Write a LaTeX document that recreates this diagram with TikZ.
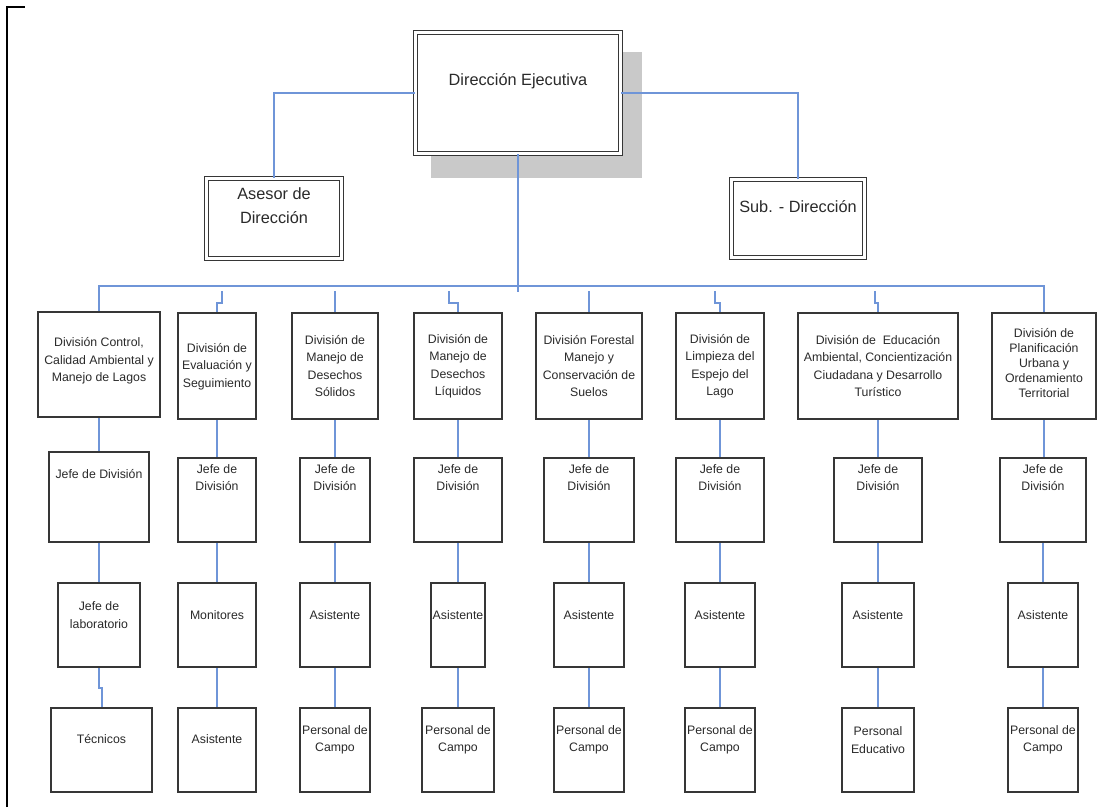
\documentclass[tikz,border=0pt]{standalone}
\usepackage{fontspec}
\setmainfont{Liberation Sans}
\definecolor{connblue}{HTML}{6F95D8}
\definecolor{boxline}{HTML}{363636}
\definecolor{txtgray}{HTML}{2A2A2A}
\definecolor{shadowgray}{HTML}{C9C9C9}
\tikzset{
  obx/.style={draw=boxline, line width=2pt, fill=white, rectangle, inner sep=0pt},
  dbx/.style={draw=boxline, line width=1.3pt, double=white, double distance=2.6pt, fill=white, rectangle, inner sep=0pt},
  txt/.style={align=center, font=\fontsize{12.3}{17.5}\selectfont, text=txtgray, inner sep=0pt},
  tight/.style={font=\fontsize{12.3}{15}\selectfont},
  bigtxt/.style={align=center, font=\fontsize{16.3}{24}\selectfont, text=txtgray, inner sep=0pt},
  conn/.style={draw=connblue, line width=2pt},
}
% #1 extra text style, #2 name, #3 x1, #4 y1, #5 x2, #6 y2, #7 text y, #8 text
\newcommand\obox[8]{%
  \node[obx, minimum width={(#5-#3)*1pt}, minimum height={(#6-#4)*1pt}] (#2) at ({(#3+#5)/2},{(#4+#6)/2}) {};
  \node[txt,#1] (#2-t) at ({(#3+#5)/2},#7) {#8};}
\newcommand\dbox[7]{%
  \node[dbx, minimum width={(#4-#2-5.2)*1pt}, minimum height={(#5-#3-5.2)*1pt}] (#1) at ({(#2+#4)/2},{(#3+#5)/2}) {};
  \node[bigtxt] (#1-t) at ({(#2+#4)/2},#6) {#7};}
\begin{document}
\begin{tikzpicture}[x=1pt,y=-1pt]
\useasboundingbox (0,0) rectangle (1110,807);
% frame corner
\draw[black, line width=2pt] (7,807) -- (7,7) -- (25,7);

% top level
\fill[shadowgray] (431,52) rectangle (642,178);
\dbox{dir}{413}{30}{623}{156}{81}{Dirección Ejecutiva}
\dbox{ase}{204}{176}{344}{261}{206}{Asesor de\\Dirección}
\dbox{sub}{729}{177}{867}{260}{207}{Sub. - Dirección}

\draw[conn] (ase.north) |- (dir.west);
\draw[conn] (dir.east) -| (sub.north);

% divisions
\obox{}{d1}{38}{312}{160}{417}{361}{División Control,\\Calidad Ambiental y\\Manejo de Lagos}
\obox{}{d2}{178}{313}{256}{419}{366.5}{División de\\Evaluación y\\Seguimiento}
\obox{}{d3}{292}{313}{378}{419}{366}{División de\\Manejo de\\Desechos\\Sólidos}
\obox{}{d4}{414}{313}{502}{419}{366}{División de\\Manejo de\\Desechos\\Líquidos}
\obox{}{d5}{536}{313}{642}{419}{366}{División Forestal\\Manejo y\\Conservación de\\Suelos}
\obox{}{d6}{676}{313}{764}{419}{366}{División de\\Limpieza del\\Espejo del\\Lago}
\obox{}{d7}{798}{313}{958}{419}{366}{División de\ \ Educación\\Ambiental, Concientización\\Ciudadana y Desarrollo\\Turístico}
\obox{tight}{d8}{992}{313}{1096}{419}{363}{División de\\Planificación\\Urbana y\\Ordenamiento\\Territorial}

% bus
\coordinate (busmid) at (518,292);
\coordinate (bus1) at (99,286);
\coordinate (bus8) at (1044,286);
\draw[conn] (dir.south) -- (busmid);
\draw[conn] (d1.north) -- (bus1) -- (bus8) -- (d8.north);
\coordinate (s2) at (222,291);
\coordinate (s3) at (335,291);
\coordinate (s4) at (449,291);
\coordinate (s5) at (589,291);
\coordinate (s6) at (715,291);
\coordinate (s7) at (875,291);
\draw[conn] (s2) -- ++(0,12) -| (d2.north);
\draw[conn] (s3) -- (d3.north);
\draw[conn] (s4) -- ++(0,12) -| (d4.north);
\draw[conn] (s5) -- (d5.north);
\draw[conn] (s6) -- ++(0,12) -| (d6.north);
\draw[conn] (s7) -- ++(0,12) -| (d7.north);

% row 2: Jefe de División
\obox{}{j1}{49}{452}{149}{542}{474}{Jefe de División}
\obox{}{j2}{178}{458}{256}{542}{477.5}{Jefe de\\División}
\obox{}{j3}{300}{458}{370}{542}{477.5}{Jefe de\\División}
\obox{}{j4}{414}{458}{502}{542}{477.5}{Jefe de\\División}
\obox{}{j5}{544}{458}{634}{542}{477.5}{Jefe de\\División}
\obox{}{j6}{676}{458}{764}{542}{477.5}{Jefe de\\División}
\obox{}{j7}{834}{458}{922}{542}{477.5}{Jefe de\\División}
\obox{}{j8}{1000}{458}{1086}{542}{477.5}{Jefe de\\División}

% row 3
\obox{}{m1}{58}{583}{140}{667}{615}{Jefe de\\laboratorio}
\obox{}{m2}{178}{583}{256}{667}{615}{Monitores}
\obox{}{m3}{300}{583}{370}{667}{615}{Asistente}
\obox{}{m4}{431}{583}{485}{667}{615}{Asistente}
\obox{}{m5}{554}{583}{624}{667}{615}{Asistente}
\obox{}{m6}{685}{583}{755}{667}{615}{Asistente}
\obox{}{m7}{842}{583}{914}{667}{615}{Asistente}
\obox{}{m8}{1008}{583}{1078}{667}{615}{Asistente}

% row 4
\obox{}{b1}{51}{708}{152}{792}{739}{Técnicos}
\obox{}{b2}{178}{708}{256}{792}{739}{Asistente}
\obox{}{b3}{300}{708}{370}{792}{740}{Personal de\\Campo}
\obox{}{b4}{422}{708}{494}{792}{740}{Personal de\\Campo}
\obox{}{b5}{554}{708}{624}{792}{740}{Personal de\\Campo}
\obox{}{b6}{685}{708}{755}{792}{740}{Personal de\\Campo}
\obox{}{b7}{842}{708}{914}{792}{740}{Personal\\Educativo}
\obox{}{b8}{1008}{708}{1078}{792}{740}{Personal de\\Campo}

% vertical connectors
\foreach \i in {1,...,8}{
  \draw[conn] (d\i.south) -- (d\i.south |- j\i.north);
}
\foreach \i in {2,...,8}{
  \draw[conn] (j\i.south) -- (j\i.south |- m\i.north);
  \draw[conn] (m\i.south) -- (m\i.south |- b\i.north);
}
\draw[conn] (j1.south) -- (j1.south |- m1.north);
\draw[conn] (m1.south) -- ++(0,20) -| (b1.north);
\end{tikzpicture}
\end{document}
